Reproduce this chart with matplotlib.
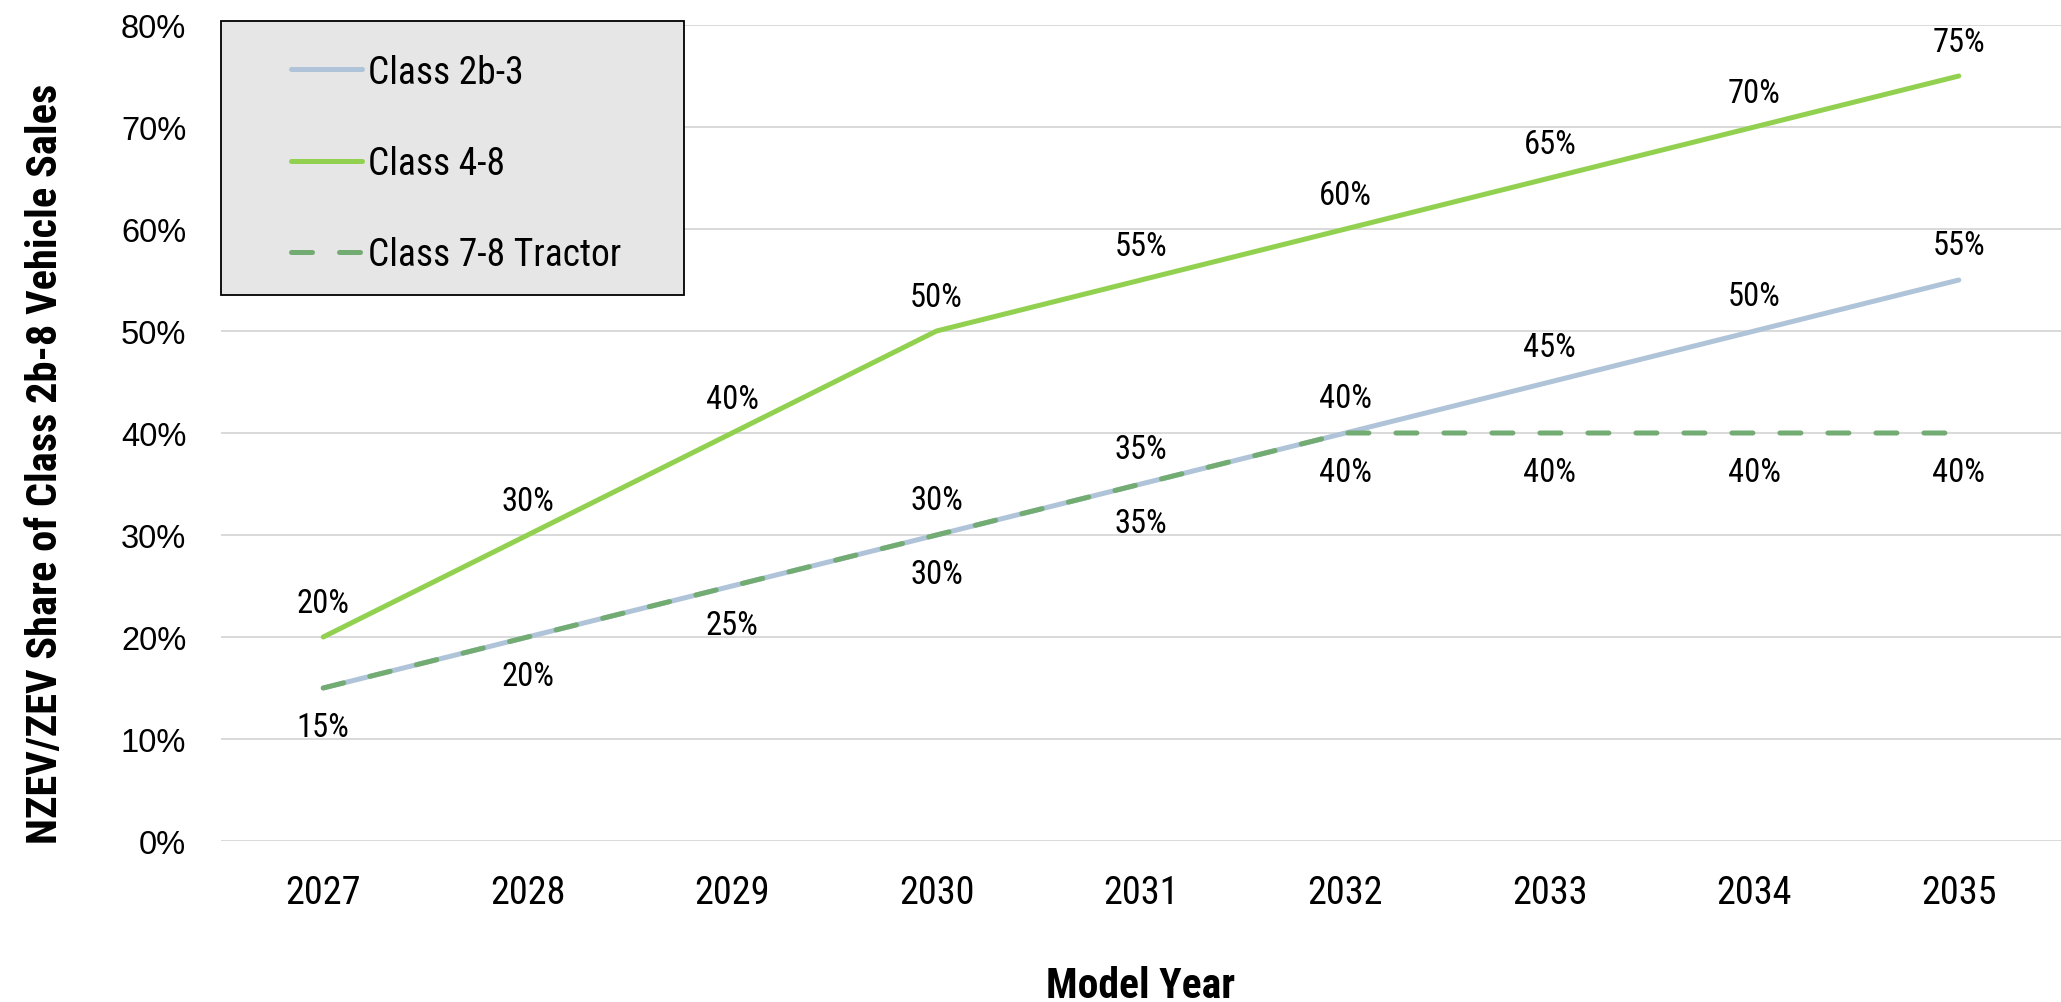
import matplotlib
matplotlib.use("Agg")
import matplotlib.pyplot as plt
from matplotlib.patches import Rectangle
from matplotlib.ticker import FuncFormatter

# Model years and NZEV/ZEV sales-share requirements (percent)
years = [2027, 2028, 2029, 2030, 2031, 2032, 2033, 2034, 2035]
class_2b3 = [15, 20, 25, 30, 35, 40, 45, 50, 55]
class_48 = [20, 30, 40, 50, 55, 60, 65, 70, 75]
tractor_78 = [15, 20, 25, 30, 35, 40, 40, 40, 40]
series_names = ["Class 2b-3", "Class 4-8", "Class 7-8 Tractor"]
y_ticks = [0, 10, 20, 30, 40, 50, 60, 70, 80]

NARROW = ["Roboto Condensed", "DejaVu Sans"]
REGULAR = ["Liberation Sans", "DejaVu Sans"]

C_LIGHT = "#AFC4D8"
C_GREEN = "#92D050"
C_DARK = "#72AC72"

fig = plt.figure(figsize=(20.61, 10.03), dpi=100)
ax = fig.add_axes([221 / 2061, 161 / 1003, 1840 / 2061, 816 / 1003])

x = list(range(len(years)))
lw = 3.6
ax.plot(x, class_2b3, color=C_LIGHT, lw=lw, solid_capstyle="round",
        label=series_names[0], zorder=3)
ax.plot(x, class_48, color=C_GREEN, lw=lw, solid_capstyle="round",
        label=series_names[1], zorder=3)
ax.plot(x, tractor_78, color=C_DARK, lw=lw, ls=(0, (4.2, 5.4)),
        dash_capstyle="round", label=series_names[2], zorder=4)

lab_kw = dict(textcoords="offset points", ha="center", va="center",
              fontsize=23.5, family=NARROW, color="black", zorder=6)
# Class 4-8 labels above the line
for i, v in enumerate(class_48):
    ax.annotate(f"{v}%", (i, v), xytext=(0, 24.5), **lab_kw)
# Class 2b-3 labels above the line once it separates from the tractor line
for i, v in enumerate(class_2b3):
    if i >= 3:
        ax.annotate(f"{v}%", (i, v), xytext=(0, 25.5), **lab_kw)
# Tractor labels below the line
for i, v in enumerate(tractor_78):
    ax.annotate(f"{v}%", (i, v), xytext=(0, -28), **lab_kw)

ax.set_xlim(-0.5, len(years) - 0.5)
ax.set_ylim(0, 80)
ax.set_xticks(x)
ax.set_xticklabels([str(y) for y in years], family=NARROW, fontsize=27.5)
ax.set_yticks(y_ticks)
ax.yaxis.set_major_formatter(FuncFormatter(lambda v, p: f"{v:.0f}%"))
for t in ax.get_yticklabels():
    t.set_family(REGULAR)
    t.set_fontsize(23.5)
ax.tick_params(axis="both", length=0)
ax.tick_params(axis="y", pad=25)
ax.tick_params(axis="x", pad=24)

ax.grid(axis="y", color="#D9D9D9", lw=1.4, zorder=0)
ax.set_axisbelow(True)
for s in ax.spines.values():
    s.set_visible(False)

ax.set_xlabel("Model Year", family=NARROW, fontweight="bold", fontsize=30)
ax.xaxis.set_label_coords(0.5, -0.152)
ax.set_ylabel("NZEV/ZEV Share of Class 2b-8 Vehicle Sales", family=NARROW,
              fontweight="bold", fontsize=30.5)
ax.yaxis.set_label_coords(-0.0845, 0.463)

# Legend panel
ax.add_patch(Rectangle((0, 0.669), 0.2516, 0.3359, transform=ax.transAxes,
                       facecolor="#E6E6E6", edgecolor="black", lw=1.3,
                       clip_on=False, zorder=5))
leg = ax.legend(loc="upper left", bbox_to_anchor=(0.038, 0.965),
                frameon=False, borderpad=0, borderaxespad=0,
                handlelength=1.9, handletextpad=0.16, labelspacing=1.45,
                prop={"family": NARROW, "size": 27})
leg.set_zorder(7)

fig.savefig("out.png", dpi=100)
